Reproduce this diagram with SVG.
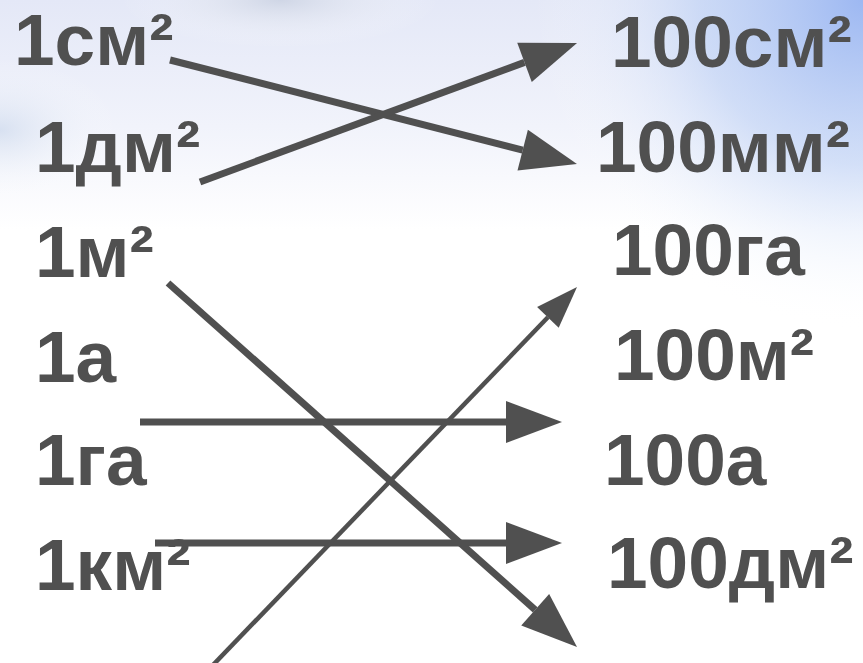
<svg xmlns="http://www.w3.org/2000/svg" width="863" height="663" viewBox="0 0 863 663">
  <style>
    .lbl { font-family: "Liberation Sans", Arial, sans-serif; font-weight: bold; font-size: 73px; fill: #505050; }
    .thick { stroke: #505050; stroke-width: 7; fill: none; }
    .thin { stroke: #505050; stroke-width: 4.5; fill: none; }
  </style>
  <defs>
    <linearGradient id="sky" x1="0" y1="0" x2="0" y2="1">
      <stop offset="0" stop-color="#e4e8f7"/>
      <stop offset="0.55" stop-color="#f1f3fb"/>
      <stop offset="1" stop-color="#ffffff"/>
    </linearGradient>
    <radialGradient id="blueTR" cx="863" cy="0" r="330" gradientUnits="userSpaceOnUse">
      <stop offset="0" stop-color="#9db8f2" stop-opacity="1"/>
      <stop offset="0.5" stop-color="#bcd0f5" stop-opacity="0.6"/>
      <stop offset="1" stop-color="#ffffff" stop-opacity="0"/>
    </radialGradient>
    <radialGradient id="blueL" cx="0" cy="130" r="120" gradientUnits="userSpaceOnUse" gradientTransform="translate(0,130) scale(1,0.6) translate(0,-130)">
      <stop offset="0" stop-color="#c6d4ea" stop-opacity="0.6"/>
      <stop offset="1" stop-color="#ffffff" stop-opacity="0"/>
    </radialGradient>
    <radialGradient id="grayT" cx="280" cy="0" r="160" gradientUnits="userSpaceOnUse" gradientTransform="translate(280,0) scale(1,0.3) translate(-280,0)">
      <stop offset="0" stop-color="#c6cede" stop-opacity="0.7"/>
      <stop offset="1" stop-color="#ffffff" stop-opacity="0"/>
    </radialGradient>
    <marker id="headThick" markerUnits="userSpaceOnUse" markerWidth="56" markerHeight="42" refX="0" refY="21" orient="auto" overflow="visible">
      <path d="M0,0 L56,21 L0,42 Z" fill="#505050"/>
    </marker>
    <marker id="headThin" markerUnits="userSpaceOnUse" markerWidth="42" markerHeight="30" refX="0" refY="15" orient="auto" overflow="visible">
      <path d="M0,0 L42,15 L0,30 Z" fill="#505050"/>
    </marker>
  </defs>

  <g id="background">
    <rect x="0" y="0" width="863" height="663" fill="#ffffff"/>
    <rect x="0" y="0" width="863" height="230" fill="url(#sky)"/>
    <rect x="0" y="0" width="863" height="330" fill="url(#blueTR)"/>
    <rect x="0" y="0" width="200" height="230" fill="url(#blueL)"/>
    <rect x="100" y="0" width="360" height="60" fill="url(#grayT)"/>
  </g>

  <g id="left-column">
    <g id="n-1cm2"><text class="lbl" x="14" y="65">1см²</text></g>
    <g id="n-1dm2"><text class="lbl" x="35" y="172">1дм²</text></g>
    <g id="n-1m2"><text class="lbl" x="35" y="277">1м²</text></g>
    <g id="n-1a"><text class="lbl" x="35" y="382">1а</text></g>
    <g id="n-1ga"><text class="lbl" x="35" y="485">1га</text></g>
    <g id="n-1km2"><text class="lbl" x="35" y="590">1км²</text></g>
  </g>

  <g id="right-column">
    <g id="n-100cm2"><text class="lbl" x="611" y="67">100см²</text></g>
    <g id="n-100mm2"><text class="lbl" x="596" y="172">100мм²</text></g>
    <g id="n-100ga"><text class="lbl" x="612" y="275">100га</text></g>
    <g id="n-100m2"><text class="lbl" x="614" y="380">100м²</text></g>
    <g id="n-100a"><text class="lbl" x="604" y="485">100а</text></g>
    <g id="n-100dm2"><text class="lbl" x="607" y="588">100дм²</text></g>
  </g>

  <g id="connectors">
    <path class="thick" d="M170,60 L522.7,150.1" marker-end="url(#headThick)"/>
    <path class="thick" d="M200,182 L524.5,62.4" marker-end="url(#headThick)"/>
    <path class="thick" d="M168,283 L535.2,609.8" marker-end="url(#headThick)"/>
    <path class="thick" d="M140,422 L506,422" marker-end="url(#headThick)"/>
    <path class="thick" d="M155,543 L506,543" marker-end="url(#headThick)"/>
    <path class="thin" d="M213,665 L547.9,317.3" marker-end="url(#headThin)"/>
  </g>
</svg>
